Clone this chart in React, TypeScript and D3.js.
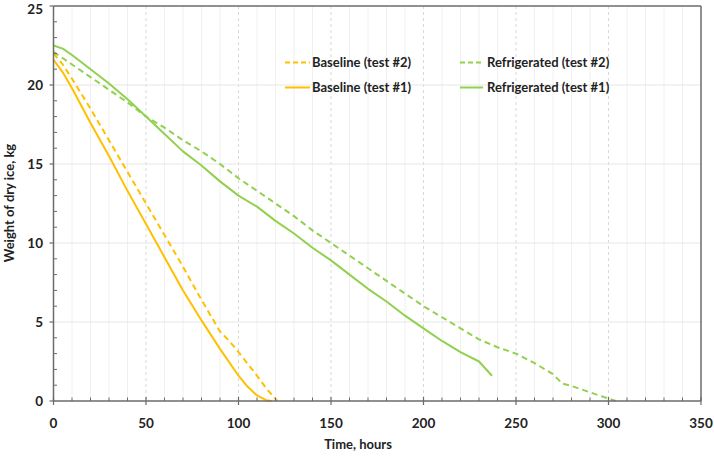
import React from "react";
import * as d3 from "d3";

const baseline1T = [0, 5, 10, 20, 30, 40, 50, 60, 70, 80, 90, 100, 105, 110, 115, 118];
const baseline1W = [21.6, 20.8, 19.8, 17.6, 15.5, 13.3, 11.2, 9.1, 7.0, 5.1, 3.3, 1.6, 0.9, 0.35, 0.05, 0];
const baseline2T = [0, 5, 10, 20, 30, 40, 50, 60, 70, 80, 90, 95, 100, 110, 115, 121];
const baseline2W = [22.0, 21.3, 20.4, 18.5, 16.5, 14.5, 12.5, 10.5, 8.5, 6.4, 4.4, 3.8, 3.1, 1.6, 0.8, 0];
const refr1T = [0, 5, 10, 20, 30, 40, 50, 60, 70, 80, 90, 100, 110, 120, 130, 140, 150, 160, 170, 180, 190, 200, 210, 220, 230, 237];
const refr1W = [22.5, 22.3, 21.9, 21.0, 20.1, 19.1, 18.0, 16.9, 15.8, 14.9, 13.9, 13.0, 12.3, 11.4, 10.6, 9.7, 8.9, 8.0, 7.1, 6.3, 5.4, 4.6, 3.8, 3.1, 2.5, 1.6];
const refr2T = [0, 10, 20, 30, 40, 50, 60, 70, 80, 90, 100, 110, 120, 130, 140, 150, 160, 170, 180, 190, 200, 210, 220, 230, 240, 250, 260, 270, 275, 280, 290, 300, 304];
const refr2W = [22.1, 21.3, 20.5, 19.7, 18.9, 18.0, 17.3, 16.5, 15.8, 15.0, 14.1, 13.3, 12.5, 11.7, 10.8, 10.0, 9.2, 8.4, 7.6, 6.8, 6.0, 5.3, 4.6, 3.9, 3.4, 3.0, 2.4, 1.7, 1.1, 0.95, 0.55, 0.15, 0];

const xTicks = [0, 50, 100, 150, 200, 250, 300, 350];
const yTicks = [0, 5, 10, 15, 20, 25];

const YELLOW = "#FFC000";
const GREEN = "#92D050";
const FONT = "Lato, 'Open Sans', sans-serif";

export default function App() {
  const W = 714, H = 458;
  const x = d3.scaleLinear().domain([0, 350]).range([53.5, 701]);
  const y = d3.scaleLinear().domain([0, 25]).range([401, 6]);
  const line = d3.line<[number, number]>().x(d => x(d[0])).y(d => y(d[1]));
  const mk = (t: number[], w: number[]) => t.map((v, i) => [v, w[i]] as [number, number]);

  const series = [
    { d: mk(baseline2T, baseline2W), c: YELLOW, dash: "6,4" },
    { d: mk(baseline1T, baseline1W), c: YELLOW, dash: null },
    { d: mk(refr2T, refr2W), c: GREEN, dash: "6,4" },
    { d: mk(refr1T, refr1W), c: GREEN, dash: null },
  ];

  const minorX = d3.range(0, 351, 10);
  const minorY = d3.range(0, 26, 1);
  const axisC = "#6b6b6b";

  const legend = [
    { x1: 285, x2: 310, tx: 312, ty: 62.5, c: YELLOW, dash: "5,3", label: "Baseline (test #2)" },
    { x1: 460, x2: 483, tx: 487, ty: 62.5, c: GREEN, dash: "5,3", label: "Refrigerated (test #2)" },
    { x1: 285, x2: 310, tx: 312, ty: 87.5, c: YELLOW, dash: null, label: "Baseline (test #1)" },
    { x1: 460, x2: 483, tx: 487, ty: 87.5, c: GREEN, dash: null, label: "Refrigerated (test #1)" },
  ];

  return (
    <svg width={W} height={H} style={{ position: "absolute", left: 0, top: 0, background: "#fff" }} fontFamily={FONT}>
      <rect width={W} height={H} fill="#fff" />
      {minorX.filter(v => v % 50 !== 0).map(v => (
        <line key={"mx" + v} x1={x(v)} x2={x(v)} y1={y(25)} y2={y(0)} stroke="#f0f0f0" strokeWidth={1} />
      ))}
      {xTicks.filter(v => v !== 0 && v !== 350).map(v => (
        <line key={"Mx" + v} x1={x(v)} x2={x(v)} y1={y(25)} y2={y(0)} stroke="#d9d9d9" strokeWidth={1} strokeDasharray="3,3" />
      ))}
      {yTicks.filter(v => v !== 0 && v !== 25).map(v => (
        <line key={"gy" + v} x1={x(0)} x2={x(350)} y1={y(v)} y2={y(v)} stroke="#e6e6e6" strokeWidth={1} />
      ))}
      <line x1={x(0)} x2={x(350)} y1={y(25)} y2={y(25)} stroke={axisC} strokeWidth={1.5} />
      <line x1={x(350)} x2={x(350)} y1={y(25)} y2={y(0)} stroke={axisC} strokeWidth={1.5} />
      {series.map((s, i) => (
        <path key={i} d={line(s.d) || ""} fill="none" stroke={s.c} strokeWidth={2}
          strokeDasharray={s.dash || undefined} strokeLinejoin="round" />
      ))}
      <line x1={x(0)} x2={x(350)} y1={y(0)} y2={y(0)} stroke={axisC} strokeWidth={1.5} />
      <line x1={x(0)} x2={x(0)} y1={y(25)} y2={y(0)} stroke={axisC} strokeWidth={1.5} />
      {minorX.filter(v => v % 50 !== 0).map(v => (
        <line key={"tx" + v} x1={x(v)} x2={x(v)} y1={y(0)} y2={y(0) - 3.5} stroke={axisC} strokeWidth={1} />
      ))}
      {xTicks.map(v => (
        <line key={"Tx" + v} x1={x(v)} x2={x(v)} y1={y(0) - 4} y2={y(0) + 4} stroke={axisC} strokeWidth={1.2} />
      ))}
      {minorY.filter(v => v % 5 !== 0).map(v => (
        <line key={"ty" + v} x1={x(0)} x2={x(0) + 3.5} y1={y(v)} y2={y(v)} stroke={axisC} strokeWidth={1} />
      ))}
      {yTicks.map(v => (
        <line key={"Ty" + v} x1={x(0) - 4} x2={x(0)} y1={y(v)} y2={y(v)} stroke={axisC} strokeWidth={1.2} />
      ))}
      {xTicks.map(v => (
        <text key={"lx" + v} x={x(v)} y={428} textAnchor="middle" fontSize={13.5} fontWeight="bold" fill="#222">{v}</text>
      ))}
      {yTicks.map(v => (
        <text key={"ly" + v} x={43} y={Math.max(y(v) + 5, 14)} textAnchor="end" fontSize={13.5} fontWeight="bold" fill="#222">{v}</text>
      ))}
      <text x={358} y={449} textAnchor="middle" fontSize={13} fontWeight="bold" fill="#222">Time, hours</text>
      <text transform="translate(14,203) rotate(-90)" textAnchor="middle" fontSize={13} fontWeight="bold" fill="#222">Weight of dry ice, kg</text>
      {legend.map((l, i) => (
        <g key={"lg" + i}>
          <line x1={l.x1} x2={l.x2} y1={l.ty} y2={l.ty} stroke={l.c} strokeWidth={2} strokeDasharray={l.dash || undefined} />
          <text x={l.tx} y={l.ty + 4.5} fontSize={13} fontWeight="bold" fill="#222">{l.label}</text>
        </g>
      ))}
    </svg>
  );
}
